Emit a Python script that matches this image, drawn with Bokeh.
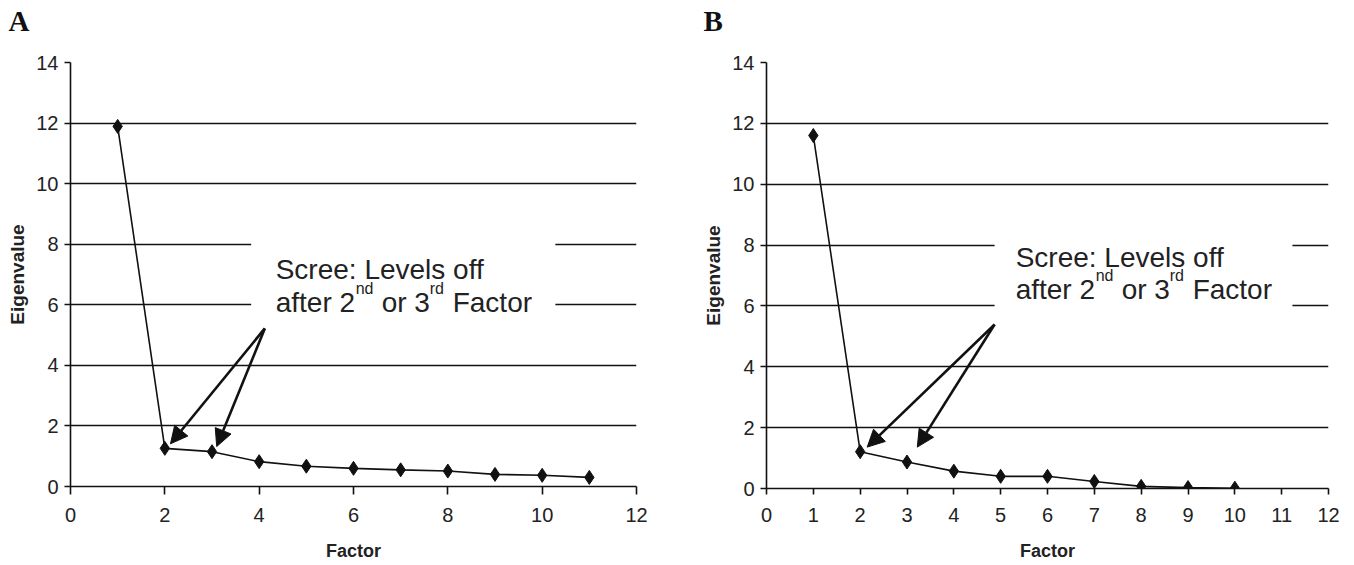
from bokeh.plotting import figure
from bokeh.layouts import row
from bokeh.models import Label, Arrow, NormalHead, FixedTicker, Title
from bokeh.embed import file_html
from bokeh.resources import INLINE

# ---- data ----
factors_a = [1, 2, 3, 4, 5, 6, 7, 8, 9, 10, 11]
eigen_a = [11.89, 1.26, 1.15, 0.82, 0.67, 0.60, 0.55, 0.51, 0.40, 0.37, 0.30]

factors_b = [1, 2, 3, 4, 5, 6, 7, 8, 9, 10]
eigen_b = [11.60, 1.21, 0.87, 0.57, 0.40, 0.40, 0.23, 0.07, 0.03, 0.01]

x_ticks_a = [0, 2, 4, 6, 8, 10, 12]
x_ticks_b = [0, 1, 2, 3, 4, 5, 6, 7, 8, 9, 10, 11, 12]
y_ticks = [0, 2, 4, 6, 8, 10, 12, 14]

panel_letters = ["A", "B"]
x_title = "Factor"
y_title = "Eigenvalue"
note_line1 = "Scree: Levels off"
note_pieces = ["after 2", "nd", "or 3", "rd", "Factor"]

FONT = "Liberation Sans"


def make_panel(letter, letter_offset, xs, ys, xticks, fw, fh, b_left, b_right,
               b_bottom, text_xy, line_gap_y, box, tail, heads, tick_out):
    title = Title(text=letter, align="left", offset=letter_offset,
                  text_font="Liberation Serif", text_font_style="bold",
                  text_font_size="29px", text_color="#111111",
                  vertical_align="top", standoff=8)
    p = figure(frame_width=fw, frame_height=fh, x_range=(0, 12), y_range=(0, 14),
               output_backend="svg", toolbar_location=None, title=title,
               min_border_left=b_left, min_border_right=b_right,
               min_border_top=62, min_border_bottom=b_bottom)
    # empty spacer between the panel letter and the plot frame
    p.add_layout(Title(text=" ", text_font_size="1px", standoff=17), "above")
    p.outline_line_color = None
    p.background_fill_color = "white"
    p.border_fill_color = "white"

    p.xgrid.grid_line_color = None
    p.ygrid.grid_line_color = "#111111"
    p.ygrid.grid_line_width = 1.6
    p.ygrid.ticker = FixedTicker(ticks=y_ticks)

    p.xaxis.ticker = FixedTicker(ticks=xticks)
    p.yaxis.ticker = FixedTicker(ticks=y_ticks)
    for ax in (p.xaxis, p.yaxis):
        ax.axis_line_color = "#111111"
        ax.axis_line_width = 1.6
        ax.major_tick_line_color = "#111111"
        ax.major_tick_line_width = 1.6
        ax.major_tick_in = 0
        ax.minor_tick_line_color = None
        ax.major_label_text_font = FONT
        ax.major_label_text_font_size = "20px"
        ax.major_label_text_color = "#222222"
        ax.axis_label_text_font = FONT
        ax.axis_label_text_font_style = "bold"
        ax.axis_label_text_color = "#222222"
    p.xaxis.major_tick_out = tick_out
    p.yaxis.major_tick_out = 6
    p.xaxis.major_label_standoff = 13
    p.yaxis.major_label_standoff = 6
    p.xaxis.axis_label = x_title
    p.yaxis.axis_label = y_title
    p.xaxis.axis_label_text_font_size = "18px"
    p.yaxis.axis_label_text_font_size = "19px"
    p.xaxis.axis_label_standoff = 16
    p.yaxis.axis_label_standoff = 5

    # white box behind the note (interrupts the grid lines)
    p.quad(left=box[0], right=box[1], bottom=box[2], top=box[3],
           fill_color="white", line_color=None)

    p.line(xs, ys, line_color="#111111", line_width=1.6)
    p.scatter(xs, ys, marker="diamond", size=14, fill_color="#111111",
              line_color="#111111")

    # note text
    tx, ty = text_xy
    p.add_layout(Label(x=tx, y=ty, text=note_line1, text_font=FONT,
                       text_font_size="28px", text_color="#222222",
                       text_baseline="alphabetic"))
    offsets = [0, 80, 106, 154, 177]
    sizes = ["28px", "16px", "28px", "16px", "28px"]
    yoffs = [0, 14, 0, 14, 0]
    for piece, off, sz, yo in zip(note_pieces, offsets, sizes, yoffs):
        p.add_layout(Label(x=tx, y=ty - line_gap_y, x_offset=off, y_offset=yo,
                           text=piece, text_font=FONT, text_font_size=sz,
                           text_color="#222222", text_baseline="alphabetic"))

    # arrows
    for hx, hy in heads:
        p.add_layout(Arrow(end=NormalHead(size=17, fill_color="#111111",
                                          line_color="#111111", line_width=1),
                           x_start=tail[0], y_start=tail[1], x_end=hx, y_end=hy,
                           line_color="#111111", line_width=2.6))
    return p


pa = make_panel(panel_letters[0], -62, factors_a, eigen_a, x_ticks_a, 566, 424,
                70, 46, 77,
                text_xy=(4.35, 7.16), line_gap_y=1.09,
                box=(3.83, 10.28, 5.64, 8.45), tail=(4.12, 5.22),
                heads=[(2.12, 1.41), (3.10, 1.32)], tick_out=8)

pb = make_panel(panel_letters[1], -63, factors_b, eigen_b, x_ticks_b, 562, 426,
                84, 18, 75,
                text_xy=(5.32, 7.60), line_gap_y=1.07,
                box=(4.87, 11.23, 5.64, 8.45), tail=(4.87, 5.39),
                heads=[(2.15, 1.36), (3.22, 1.36)], tick_out=6)

layout = row(pa, pb)
open("out.html", "w").write(file_html(layout, INLINE))
